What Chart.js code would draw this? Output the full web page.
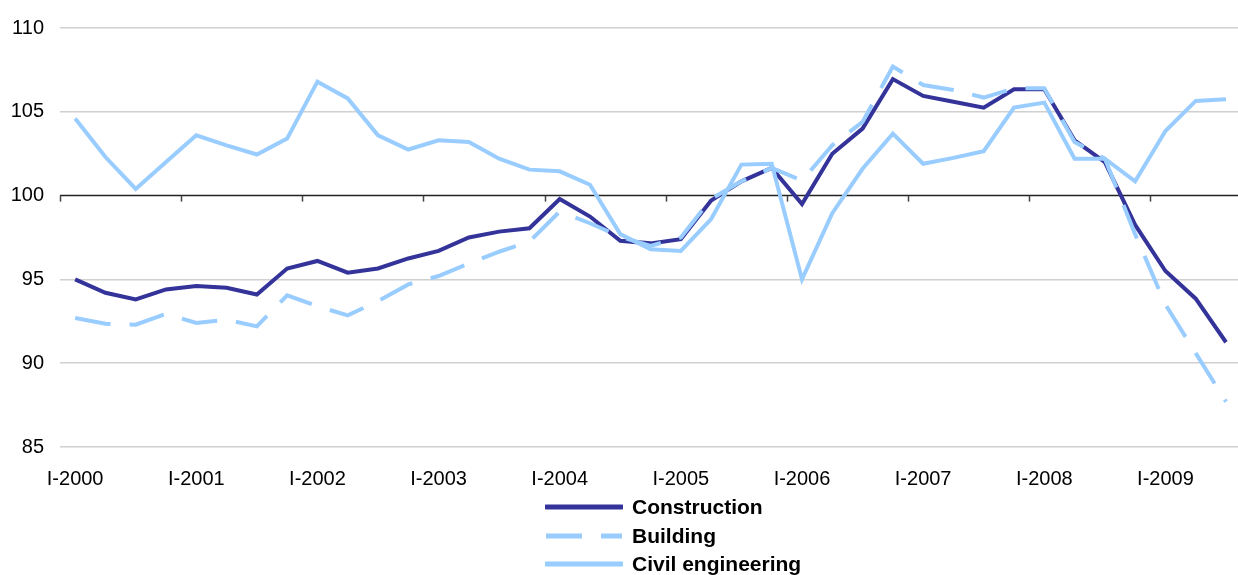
<!DOCTYPE html>
<html>
<head>
<meta charset="utf-8">
<script src="https://cdn.jsdelivr.net/npm/chart.js@4"></script>
<style>
  html, body { margin: 0; padding: 0; background: #fff; overflow: hidden; }
  #wrap { position: relative; width: 1238px; height: 575px; overflow: hidden; }
  #legend { position: absolute; left: 545px; top: 493px; font-family: "Liberation Sans", Arial, sans-serif; font-weight: bold; font-size: 21px; color: #000; }
  .item { display: flex; align-items: center; height: 28.5px; }
  .item svg { margin-right: 9px; }
</style>
</head>
<body>
<div id="wrap">
  <canvas id="myChart" width="1246" height="575"></canvas>
  <div id="legend"></div>
</div>
<script>
// quarters I-2000 .. III-2009
const years = ['2000','2001','2002','2003','2004','2005','2006','2007','2008','2009'];
const quarters = ['I','II','III','IV'];
const quarterLabels = [];
years.forEach(y => quarters.forEach(q => quarterLabels.push(q + '-' + y)));
quarterLabels.length = 39;

const construction = [
  95.0, 94.2, 93.8, 94.4, 94.6, 94.5, 94.1, 95.65,
  96.1, 95.4, 95.65, 96.25, 96.7, 97.5, 97.85, 98.05,
  99.8, 98.75, 97.3, 97.15, 97.4, 99.7, 100.85, 101.65,
  99.5, 102.5, 104.0, 106.95, 105.95, 105.6, 105.25, 106.35,
  106.35, 103.3, 102.0, 98.25, 95.5, 93.85, 91.25
];
const building = [
  92.7, 92.35, 92.3, 92.95, 92.4, 92.6, 92.2, 94.05,
  93.4, 92.85, 93.7, 94.7, 95.2, 95.95, 96.65, 97.25,
  99.05, 98.35, 97.55, 97.0, 97.5, 99.8, 100.85, 101.65,
  100.9, 103.0, 104.4, 107.7, 106.6, 106.3, 105.85, 106.4,
  106.4, 103.2, 102.2, 97.7, 93.5, 90.6, 87.7
];
const civilEngineering = [
  104.6, 102.3, 100.4, 102.0, 103.6, 103.0, 102.45, 103.4,
  106.8, 105.8, 103.6, 102.75, 103.3, 103.2, 102.2, 101.55,
  101.45, 100.65, 97.7, 96.8, 96.7, 98.6, 101.85, 101.9,
  95.0, 98.95, 101.6, 103.7, 101.9, 102.25, 102.65, 105.25,
  105.55, 102.2, 102.2, 100.85, 103.85, 105.65, 105.75
];
const yMin = 85, yMax = 110, yStep = 5;

const darkBlue = '#333399';
const lightBlue = '#99ccff';
const buildingDash = [36, 19];

// black line at 100 with year tick marks hanging below it
const baseLine = {
  id: 'baseLine',
  afterDatasetsDraw(chart) {
    const { ctx, scales: { x, y } } = chart;
    const py = y.getPixelForValue(100);
    const half = (x.getPixelForValue(1) - x.getPixelForValue(0)) / 2;
    ctx.save();
    ctx.strokeStyle = '#444';
    ctx.lineWidth = 1.5;
    for (let i = 0; i < quarterLabels.length; i += 4) {
      const px = Math.round(x.getPixelForValue(i) - half) + 0.5;
      ctx.beginPath();
      ctx.moveTo(px, py);
      ctx.lineTo(px, py + 6);
      ctx.stroke();
    }
    ctx.restore();
  },
  beforeDatasetsDraw(chart) {
    const { ctx, chartArea, scales: { y } } = chart;
    const py = y.getPixelForValue(100);
    ctx.save();
    ctx.strokeStyle = '#222';
    ctx.lineWidth = 1.5;
    ctx.beginPath();
    ctx.moveTo(chartArea.left, py);
    ctx.lineTo(chartArea.right, py);
    ctx.stroke();
    ctx.restore();
  }
};

const data = {
  labels: quarterLabels,
  datasets: [
    { label: 'Construction', data: construction, borderColor: darkBlue, borderWidth: 4, order: 3 },
    { label: 'Building', data: building, borderColor: lightBlue, borderWidth: 4, borderDash: buildingDash, order: 2 },
    { label: 'Civil engineering', data: civilEngineering, borderColor: lightBlue, borderWidth: 4, order: 1 }
  ]
};

const tickFont = { family: '"Liberation Sans", Arial, sans-serif', size: 20 };

const config = {
  type: 'line',
  data: data,
  options: {
    responsive: false,
    animation: false,
    layout: { padding: { top: 15, right: 0, bottom: 64, left: 0 } },
    elements: { point: { radius: 0 }, line: { tension: 0, borderCapStyle: 'butt' } },
    plugins: { legend: { display: false }, tooltip: { enabled: false } },
    scales: {
      x: {
        offset: true,
        grid: { display: false, drawTicks: false },
        border: { display: false },
        ticks: {
          autoSkip: false, maxRotation: 0, padding: 20, color: '#000', font: tickFont,
          callback: (v, i) => (i % 4 === 0 ? quarterLabels[i] : '')
        }
      },
      y: {
        min: yMin, max: yMax,
        afterFit: s => { s.width = 60; },
        grid: { color: ctx => (ctx.tick.value === 100 ? 'rgba(0,0,0,0)' : '#d0d0d0'), lineWidth: 1.5, drawTicks: false },
        border: { display: false },
        ticks: { stepSize: yStep, padding: 16, color: '#000', font: tickFont }
      }
    }
  },
  plugins: [baseLine]
};

const myChart = new Chart(document.getElementById('myChart'), config);

// legend as a vertical list like the original
const legend = document.getElementById('legend');
myChart.data.datasets.forEach(ds => {
  const row = document.createElement('div');
  row.className = 'item';
  const dash = ds.borderDash ? ds.borderDash.join(' ') : 'none';
  row.innerHTML =
    '<svg width="78" height="8"><line x1="1" y1="4" x2="77" y2="4" stroke="' + ds.borderColor +
    '" stroke-width="5" stroke-linecap="' + (ds.borderDash ? 'butt' : 'round') + '" stroke-dasharray="' + dash + '"/></svg>' +
    '<span>' + ds.label + '</span>';
  legend.appendChild(row);
});
</script>
</body>
</html>
